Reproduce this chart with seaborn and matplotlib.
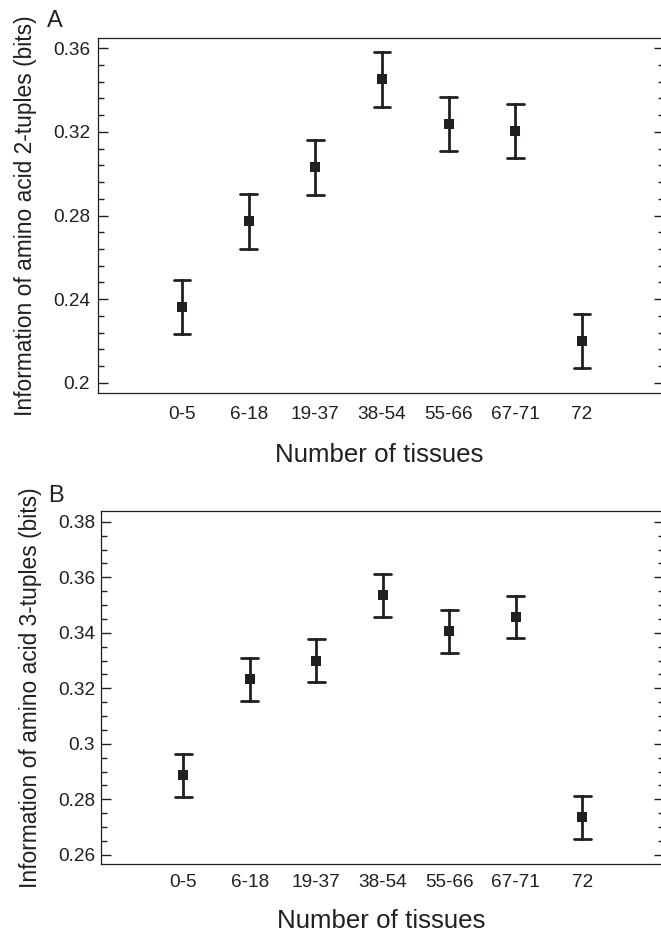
import numpy as np
import pandas as pd
import matplotlib
matplotlib.use("Agg")
import matplotlib.pyplot as plt
import matplotlib.ticker as mticker
import seaborn as sns

# ---- data ----
categories = ["0-5", "6-18", "19-37", "38-54", "55-66", "67-71", "72"]
info_2tuples = [0.2363, 0.2772, 0.3030, 0.3450, 0.3236, 0.3204, 0.2201]
err_2tuples = [0.0130, 0.0130, 0.0130, 0.0130, 0.0130, 0.0130, 0.0130]
info_3tuples = [0.2887, 0.3232, 0.3300, 0.3535, 0.3406, 0.3457, 0.2735]
err_3tuples = [0.0077, 0.0077, 0.0077, 0.0077, 0.0077, 0.0077, 0.0077]

COL = "#231f20"

sns.set_style("white")
plt.rcParams["font.family"] = ["Liberation Sans", "DejaVu Sans"]
plt.rcParams["text.color"] = COL
plt.rcParams["axes.labelcolor"] = COL
plt.rcParams["xtick.color"] = COL
plt.rcParams["ytick.color"] = COL

W, H = 661, 934
fig = plt.figure(figsize=(W / 100, H / 100), dpi=100)


def make_df(vals, errs):
    rows = []
    for c, v, e in zip(categories, vals, errs):
        rows.append({"group": c, "value": v - e})
        rows.append({"group": c, "value": v + e})
    return pd.DataFrame(rows)


def panel(rect, vals, errs, ylim, major, minor, ylabel, letter, letter_xy,
          xpad, ypad, ylab_x, xlab_xy, xlim):
    ax = fig.add_axes(rect)
    df = make_df(vals, errs)
    sns.pointplot(data=df, x="group", y="value", order=categories,
                  estimator="mean", errorbar=lambda v: (v.min(), v.max()),
                  capsize=0.25, linestyle="none", marker="s", markersize=7,
                  markeredgewidth=0, color=COL, err_kws={"linewidth": 2.0}, ax=ax)
    ax.set_xlim(*xlim)
    ax.set_ylim(*ylim)
    ax.yaxis.set_major_locator(mticker.MultipleLocator(major))
    ax.yaxis.set_minor_locator(mticker.MultipleLocator(minor))
    ax.yaxis.set_major_formatter(mticker.FuncFormatter(lambda v, p: "%g" % round(v, 4)))
    ax.tick_params(axis="y", which="both", direction="in", left=True, right=True,
                   labelsize=13.7, pad=ypad, width=1.0)
    ax.tick_params(axis="y", which="major", length=7)
    ax.tick_params(axis="y", which="minor", length=4.2)
    ax.tick_params(axis="x", which="both", bottom=False, top=False,
                   labelsize=13.7, pad=xpad)
    for s in ax.spines.values():
        s.set_visible(True)
        s.set_linewidth(0.9)
        s.set_color(COL)
    ax.set_ylabel(ylabel, fontsize=16.4)
    ax.yaxis.set_label_coords(ylab_x, 0.5)
    ax.set_xlabel("Number of tissues", fontsize=18.6)
    ax.xaxis.set_label_coords(*xlab_xy)
    fig.text(letter_xy[0] / W, 1 - letter_xy[1] / H, letter, fontsize=17,
             ha="left", va="baseline")
    return ax


# Panel A
axA = panel([98 / W, 1 - 393 / H, (664 - 98) / W, (393 - 38) / H],
            info_2tuples, err_2tuples, (0.1952, 0.3648), 0.04, 0.008,
            "Information of amino acid 2-tuples (bits)", "A", (47, 27),
            6.0, 5.8, -0.107, (0.4965, -0.14), (-1.26, 7.23))

# Panel B
axB = panel([100.7 / W, 1 - 864.3 / H, (664 - 100.7) / W, (864.3 - 510.7) / H],
            info_3tuples, err_3tuples, (0.2566, 0.384), 0.02, 0.005,
            "Information of amino acid 3-tuples (bits)", "B", (48, 502),
            3.2, 4.0, -0.104, (0.4976, -0.126), (-1.242, 7.23))

fig.savefig("out.png", dpi=100)
